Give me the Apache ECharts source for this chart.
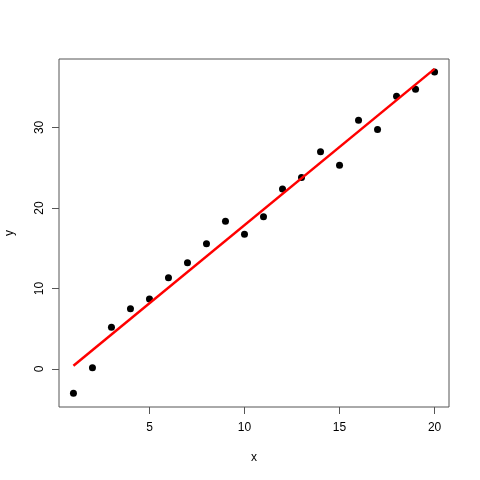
<!DOCTYPE html>
<html><head><meta charset="utf-8">
<script src="https://cdn.jsdelivr.net/npm/echarts@6/dist/echarts.min.js"></script>
<style>html,body{margin:0;padding:0;background:#fff}#c{width:480px;height:480px}</style>
</head><body><div id="c"></div>
<script>
const xValues = [1,2,3,4,5,6,7,8,9,10,11,12,13,14,15,16,17,18,19,20];
const yValues = [-3.02,0.16,5.18,7.49,8.70,11.34,13.21,15.57,18.34,16.73,18.92,22.36,23.77,26.99,25.30,30.89,29.73,33.87,34.74,36.89];
const fitX = [1,20];
const fitY = [0.41,37.27];
const xTicks = [5,10,15,20];
const yTicks = [0,10,20,30];

const chart = echarts.init(document.getElementById('c'), null, {renderer:'canvas'});
const font = 'Liberation Sans, Arial, sans-serif';
chart.setOption({
  animation:false,
  backgroundColor:'#fff',
  grid:{left:59,right:31,top:59,bottom:73,containLabel:false,outerBoundsMode:'none',show:true,borderColor:'#555',borderWidth:1,backgroundColor:'transparent'},
  xAxis:{type:'value',min:0.24,max:20.76,
    name:'x',nameLocation:'middle',nameGap:45,nameTextStyle:{fontFamily:font,fontSize:12,color:'#000'},
    axisLine:{show:false,onZero:false},splitLine:{show:false},
    axisTick:{show:true,length:7,inside:false,customValues:xTicks,lineStyle:{color:'#555'}},
    axisLabel:{customValues:xTicks,fontFamily:font,fontSize:12,color:'#000',margin:15}},
  yAxis:{type:'value',min:-4.72,max:38.5,
    name:'y',nameLocation:'middle',nameGap:43,nameRotate:90,nameTextStyle:{fontFamily:font,fontSize:12,color:'#000'},
    axisLine:{show:false,onZero:false},splitLine:{show:false},
    axisTick:{show:true,length:7,inside:false,customValues:yTicks,lineStyle:{color:'#555'}},
    axisLabel:{customValues:yTicks,rotate:90,fontFamily:font,fontSize:12,color:'#000',margin:19,align:'center',verticalAlign:'middle'}},
  series:[
    {type:'scatter',data:xValues.map((x,i)=>[x,yValues[i]]),symbol:'circle',symbolSize:7,itemStyle:{color:'#000',opacity:1},z:3},
    {type:'line',data:fitX.map((x,i)=>[x,fitY[i]]),symbol:'none',lineStyle:{color:'#ff0000',width:2.5},z:4}
  ]
});
</script></body></html>
